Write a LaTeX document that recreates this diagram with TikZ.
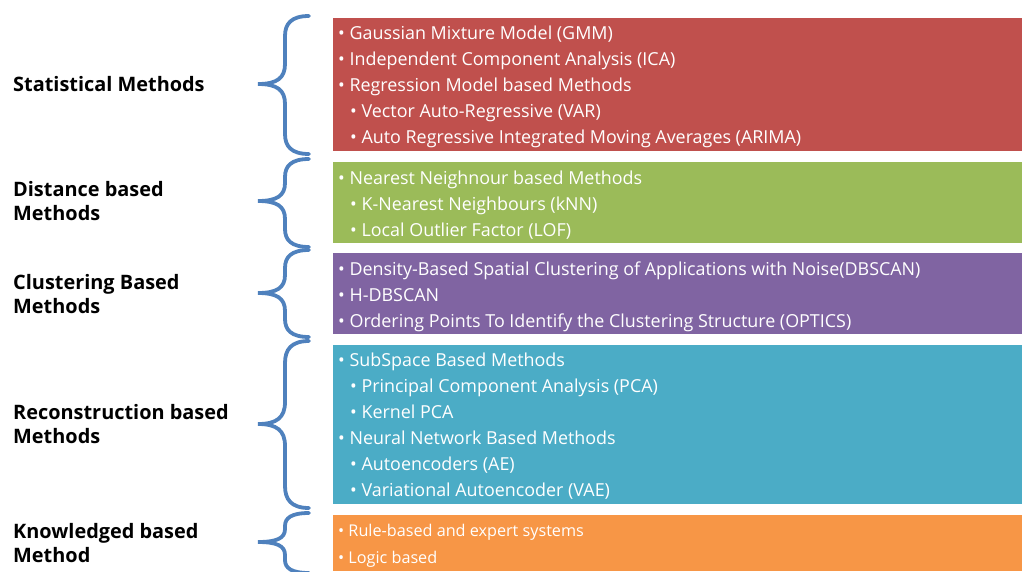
\documentclass[tikz,border=0pt]{standalone}
\usepackage{fontspec}
\setmainfont{Open Sans}
\definecolor{statred}{HTML}{C0504D}
\definecolor{distgreen}{HTML}{9BBB59}
\definecolor{clustpurple}{HTML}{8064A2}
\definecolor{recteal}{HTML}{4BACC6}
\definecolor{knoworange}{HTML}{F79646}
\definecolor{braceblue}{HTML}{4F81BD}
% curly brace: top y, tip y, bottom y, corner length
\newcommand\methodbrace[4]{%
  \draw[bracestroke] (309,#1) .. controls (291,#1) and (285,#1+0.4*#4) .. (285,#1+#4)
    -- (285,#2-#4) .. controls (285,#2-0.3*#4) and (277,#2) .. (258,#2)
    .. controls (277,#2) and (285,#2+0.3*#4) .. (285,#2+#4)
    -- (285,#3-#4) .. controls (285,#3-0.4*#4) and (291,#3) .. (309,#3);}
\begin{document}
\begin{tikzpicture}[x=1pt,y=-1pt,
  catbox/.style={fill=#1, draw=none, anchor=north west, inner sep=0pt},
  items/.style={anchor=north west, inner sep=0pt, align=left, text=white,
    font=\fontsize{17.9}{26}\selectfont},
  smallitems/.style={items, font=\fontsize{16.2}{27}\selectfont},
  catlabel/.style={anchor=west, inner sep=0pt, align=left,
    font=\fontsize{19.9}{24}\selectfont\bfseries},
  bracestroke/.style={draw=braceblue, line width=3.8pt, line cap=round}]
\useasboundingbox (0,0) rectangle (1022,571);
\begin{scope}
\clip (0,0) rectangle (1022,571);

% coloured boxes
\node[catbox=statred, minimum width=689pt, minimum height=133pt] (statbox) at (333,18) {};
\node[catbox=distgreen, minimum width=689pt, minimum height=81pt] (distbox) at (333,162) {};
\node[catbox=clustpurple, minimum width=689pt, minimum height=81pt] (clustbox) at (333,253) {};
\node[catbox=recteal, minimum width=689pt, minimum height=159pt] (recbox) at (333,345) {};
\node[catbox=knoworange, minimum width=689pt, minimum height=56pt] (knowbox) at (333,515) {};

% box contents
\node[items] (statitems) at (338,26) {%
  • Gaussian Mixture Model (GMM)\\
  • Independent Component Analysis (ICA)\\
  • Regression Model based Methods\\
  \hspace{12pt}• Vector Auto-Regressive (VAR)\\
  \hspace{12pt}• Auto Regressive Integrated Moving Averages (ARIMA)};
\node[items] (distitems) at (338,171) {%
  • Nearest Neighnour based Methods\\
  \hspace{12pt}• K-Nearest Neighbours (kNN)\\
  \hspace{12pt}• Local Outlier Factor (LOF)};
\node[items] (clustitems) at (338,262) {%
  • Density-Based Spatial Clustering of Applications with Noise(DBSCAN)\\
  • H-DBSCAN\\
  • Ordering Points To Identify the Clustering Structure (OPTICS)};
\node[items] (recitems) at (338,353) {%
  • SubSpace Based Methods\\
  \hspace{12pt}• Principal Component Analysis (PCA)\\
  \hspace{12pt}• Kernel PCA\\
  • Neural Network Based Methods\\
  \hspace{12pt}• Autoencoders (AE)\\
  \hspace{12pt}• Variational Autoencoder (VAE)};
\node[smallitems] (knowitems) at (338,524) {%
  • Rule-based and expert systems\\
  • Logic based};

% braces
\methodbrace{16}{84}{154}{20}
\methodbrace{159}{201}{247}{18}
\methodbrace{250}{293}{337}{18}
\methodbrace{341}{424}{508}{22}
\methodbrace{513}{542}{573}{13}
\end{scope}

% category labels
\node[catlabel] (statlabel) at (13,84) {Statistical Methods};
\node[catlabel] (distlabel) at (13,201) {Distance based\\Methods};
\node[catlabel] (clustlabel) at (13,294) {Clustering Based\\Methods};
\node[catlabel] (reclabel) at (13,424) {Reconstruction based\\Methods};
\node[catlabel] (knowlabel) at (13,543) {Knowledged based\\Method};
\end{tikzpicture}
\end{document}
